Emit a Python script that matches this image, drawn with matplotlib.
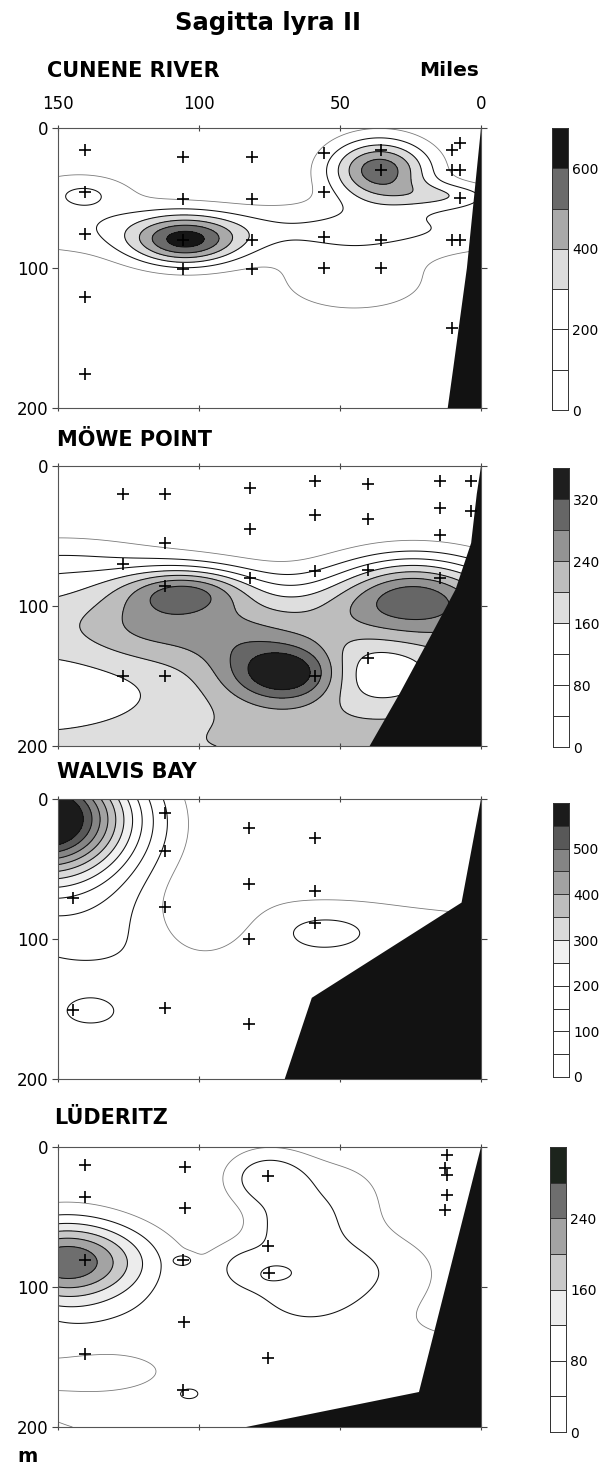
import numpy as np
import matplotlib
matplotlib.use("Agg")
import matplotlib.pyplot as plt

plt.rcParams['font.family'] = ['DejaVu Sans']

W, H = 603, 1468
fig = plt.figure(figsize=(W / 100, H / 100), dpi=100)


def box(left, top, width, height):
    """Pixel box (from the top-left corner) to figure fraction."""
    return [left / W, 1 - (top + height) / H, width / W, height / H]


title = "Sagitta lyra II"
section_names = ["CUNENE RIVER", "MÖWE POINT", "WALVIS BAY", "LÜDERITZ"]
distance_ticks = [150, 100, 50, 0]
depth_ticks = [0, 100, 200]

# ---------------- Cunene River ----------------
cunene_st_x = [140.3, 140.3, 140.3, 140.3, 140.3, 105.7, 105.7, 105.7, 105.7,
               81.2, 81.2, 81.2, 81.2, 55.6, 55.6, 55.6, 55.6,
               35.5, 35.5, 35.5, 35.5, 7.5, 10.3, 10.3, 7.5, 7.5, 10.3, 7.5, 10.3]
cunene_st_z = [16, 46, 76, 121, 176, 21, 51, 80, 101,
               21, 51, 80, 101, 18, 46, 78, 100,
               16, 30, 80, 100, 11, 16, 30, 30, 50, 80, 80, 143]
# abundance components: centre distance, centre depth, peak, spread (miles), spread (m)
cunene_cx = [36, 105, 46, 45, 12, 150, 140]
cunene_cz = [30, 81, 72, 110, 48, 58, 46]
cunene_amp = [560, 520, 200, 170, 210, 110, 110]
cunene_sx = [13, 13.8, 70, 22, 14, 25, 10]
cunene_sz = [16, 12.6, 14, 18, 7, 26, 8]
cunene_shelf_x = [0, 5, 9.8, 11.8, 0]
cunene_shelf_z = [0, 100, 171, 200, 200]
cunene_levels = [0, 100, 200, 300, 400, 500, 600, 700]
cunene_cbar_ticks = [0, 200, 400, 600]

# ---------------- Möwe Point ----------------
mowe_st_x = [127, 112, 82, 59, 40, 14.7, 3.6, 59, 40, 14.7, 3.6, 82, 112, 14.7,
             127, 59, 40, 82, 14.7, 112, 40, 127, 112, 59]
mowe_st_z = [20, 20, 15.7, 10.5, 13, 10.5, 10.5, 35, 37.5, 30, 32, 45, 55, 49,
             70, 75, 74, 80, 80, 86, 137, 150, 150, 150]
mowe_cx = [75, 75, 75, 75, 75, 150, 104, 68, 118, 88, 24, 40, 150]
mowe_cz = [104, 132, 160, 188, 216, 72, 88, 148, 112, 122, 88, 148, 162]
mowe_amp = [125, 125, 125, 125, 125, 70, 160, 180, 55, 40, 190, -110, -80]
mowe_sx = [250, 250, 250, 250, 250, 30, 16, 14.4, 16, 14, 20, 18, 40]
mowe_sz = [20, 20, 20, 20, 20, 18, 12, 14.4, 18, 16, 19, 18, 28]
mowe_shelf_x = [0, 1.5, 3.5, 9, 18, 28.7, 39.5, 0]
mowe_shelf_z = [0, 20, 55, 88, 122, 162, 200, 200]
mowe_levels = [0, 40, 80, 120, 160, 200, 240, 280, 320, 360]
mowe_cbar_ticks = [0, 80, 160, 240, 320]

# ---------------- Walvis Bay ----------------
walvis_st_x = [111.9, 111.9, 111.9, 111.9, 144.7, 144.7, 82.2, 82.2, 82.2, 82.2,
               59, 59, 59]
walvis_st_z = [10, 37, 77, 149, 71, 151, 20.5, 61, 100, 161, 28, 66, 88.6]
walvis_cx = [155, 150, 60, 60, 98, 55, 140]
walvis_cz = [12, 60, 105, 180, 85, 90, 152]
walvis_amp = [620, 90, 75, 85, -70, 35, 32]
walvis_sx = [22, 25, 90, 130, 12, 14, 11]
walvis_sz = [30, 40, 30, 40, 22, 10, 11]
walvis_shelf_x = [0, 6.9, 60, 69.6, 0]
walvis_shelf_z = [0, 74, 142, 200, 200]
walvis_levels = [0, 50, 100, 150, 200, 250, 300, 350, 400, 450, 500, 550, 600]
walvis_cbar_ticks = [0, 100, 200, 300, 400, 500]

# ---------------- Lüderitz ----------------
luderitz_st_x = [140.3, 140.3, 140.3, 140.6, 105.1, 105.1, 105.7, 105.3, 105.7,
                 75.4, 75.4, 75.2, 75.7, 12.1, 12.8, 11.9, 11.9, 12.8]
luderitz_st_z = [12.9, 35.5, 80.7, 148, 14.5, 43.6, 80.7, 124.8, 173.6,
                 20.5, 70.5, 90, 150.5, 6, 15, 20, 34, 45]
luderitz_cx = [146, 148, 76, 68, 60, 85, 50, 28, 60, 130, 105.5, 72, 104, 110]
luderitz_cz = [81, 95, 22, 55, 92, 85, 35, 85, 175, 160, 81, 90, 176, 125]
luderitz_amp = [225, 50, 105, 55, 100, 50, 55, 35, 75, -35, 60, -40, 25, 30]
luderitz_sx = [21, 15, 11, 10, 18, 8, 14, 15, 90, 18, 2.5, 6, 3.5, 20]
luderitz_sz = [20, 35, 15, 14, 24, 12, 22, 20, 40, 12, 3, 5, 4, 20]
luderitz_shelf_x = [0, 22, 83.3, 0]
luderitz_shelf_z = [0, 175, 200, 200]
luderitz_levels = [0, 40, 80, 120, 160, 200, 240, 280, 320]
luderitz_cbar_ticks = [0, 80, 160, 240]

# grey tones of the shaded classes, lowest class first
cunene_fill = ['white', 'white', 'white', '#dcdcdc', '#a9a9a9', '#6b6b6b', '#161616']
mowe_fill = ['white'] * 4 + ['#dedede', '#bdbdbd', '#939393', '#666666', '#1e1e1e']
walvis_fill = ['white'] * 5 + ['#f1f1f1', '#d9d9d9', '#bdbdbd', '#a2a2a2',
                                '#858585', '#585858', '#1b1b1b']
luderitz_fill = ['white'] * 3 + ['#ececec', '#c9c9c9', '#a3a3a3', '#6e6e6e', '#1c241c']

panels = [
    dict(sx=cunene_st_x, sz=cunene_st_z, cx=cunene_cx, cz=cunene_cz, amp=cunene_amp,
         wx=cunene_sx, wz=cunene_sz, shx=cunene_shelf_x, shz=cunene_shelf_z,
         lev=cunene_levels, ct=cunene_cbar_ticks, fill=cunene_fill,
         top=128, cb=(128, 410), cbx=552, label_y=71, label_x=47),
    dict(sx=mowe_st_x, sz=mowe_st_z, cx=mowe_cx, cz=mowe_cz, amp=mowe_amp,
         wx=mowe_sx, wz=mowe_sz, shx=mowe_shelf_x, shz=mowe_shelf_z,
         lev=mowe_levels, ct=mowe_cbar_ticks, fill=mowe_fill,
         top=466, cb=(468, 747), cbx=553, label_y=440, label_x=57),
    dict(sx=walvis_st_x, sz=walvis_st_z, cx=walvis_cx, cz=walvis_cz, amp=walvis_amp,
         wx=walvis_sx, wz=walvis_sz, shx=walvis_shelf_x, shz=walvis_shelf_z,
         lev=walvis_levels, ct=walvis_cbar_ticks, fill=walvis_fill,
         top=799, cb=(803, 1077), cbx=553, label_y=772, label_x=57),
    dict(sx=luderitz_st_x, sz=luderitz_st_z, cx=luderitz_cx, cz=luderitz_cz,
         amp=luderitz_amp, wx=luderitz_sx, wz=luderitz_sz, shx=luderitz_shelf_x,
         shz=luderitz_shelf_z, lev=luderitz_levels, ct=luderitz_cbar_ticks,
         fill=luderitz_fill, top=1147, cb=(1147, 1432), cbx=550, label_y=1118,
         label_x=54),
]

gx = np.linspace(0, 150, 301)
gz = np.linspace(0, 200, 401)
GX, GZ = np.meshgrid(gx, gz)


def abundance(cx, cz, amp, wx, wz):
    f = np.zeros_like(GX)
    for x0, z0, a, sx, sz in zip(cx, cz, amp, wx, wz):
        f += a * np.exp(-0.5 * (((GX - x0) / sx) ** 2 + ((GZ - z0) / sz) ** 2))
    return f


AX_L, AX_W, AX_H = 58, 423, 280

for i, p in enumerate(panels):
    ax = fig.add_axes(box(AX_L, p['top'], AX_W, AX_H))
    lev = p['lev']
    f = np.clip(abundance(p['cx'], p['cz'], p['amp'], p['wx'], p['wz']),
                0, lev[-1] - 1e-6)
    ax.contourf(GX, GZ, f, levels=lev, colors=p['fill'], zorder=1)
    inner = lev[1:-1]
    ax.contour(GX, GZ, f, levels=inner,
               colors=['#7a7a7a'] + ['#111111'] * (len(inner) - 1),
               linewidths=[0.6] + [0.75] * (len(inner) - 1), zorder=2)
    ax.fill(p['shx'], p['shz'], color='#121212', lw=0, zorder=3)
    ax.plot(p['sx'], p['sz'], linestyle='none', marker='+', ms=9, mew=1.2,
            color='black', zorder=4)
    ax.set_xlim(150, 0)
    ax.set_ylim(200, 0)
    ax.set_xticks(distance_ticks)
    ax.set_yticks(depth_ticks)
    ax.tick_params(axis='x', top=True, bottom=True, labeltop=(i == 0),
                   labelbottom=False, direction='inout', length=5, width=0.8,
                   labelsize=12, pad=8, color='#444444')
    ax.tick_params(axis='y', left=True, right=True, labelleft=True,
                   direction='out', length=4, width=0.8, labelsize=12, pad=3,
                   color='#444444')
    for s in ax.spines.values():
        s.set_linewidth(0.8)
        s.set_color('#555555')

    fig.text(p['label_x'] / W, 1 - p['label_y'] / H, section_names[i],
             fontsize=15, fontweight='bold', va='center', ha='left')

    # shading key
    cb_top, cb_bot = p['cb']
    cax = fig.add_axes(box(p['cbx'], cb_top, 16, cb_bot - cb_top))
    step = lev[1] - lev[0]
    cax.bar([0] * (len(lev) - 1), [step] * (len(lev) - 1), bottom=lev[:-1],
            width=1, color=p['fill'], edgecolor='#333333', linewidth=0.7)
    cax.set_xlim(-0.5, 0.5)
    cax.set_ylim(lev[0], lev[-1])
    cax.set_xticks([])
    cax.set_yticks(p['ct'])
    cax.yaxis.tick_right()
    cax.tick_params(axis='y', length=0, labelsize=10, pad=3)
    for s in cax.spines.values():
        s.set_linewidth(0.7)
        s.set_color('#333333')

fig.text(268 / W, 1 - 23 / H, title, fontsize=17.5, fontweight='bold',
         ha='center', va='center')
fig.text(479 / W, 1 - 71 / H, "Miles", fontsize=14.5, fontweight='bold',
         ha='right', va='center')
fig.text(17 / W, 1 - 1456 / H, "m", fontsize=14, fontweight='bold',
         ha='left', va='center')

fig.savefig("out.png", dpi=100)
